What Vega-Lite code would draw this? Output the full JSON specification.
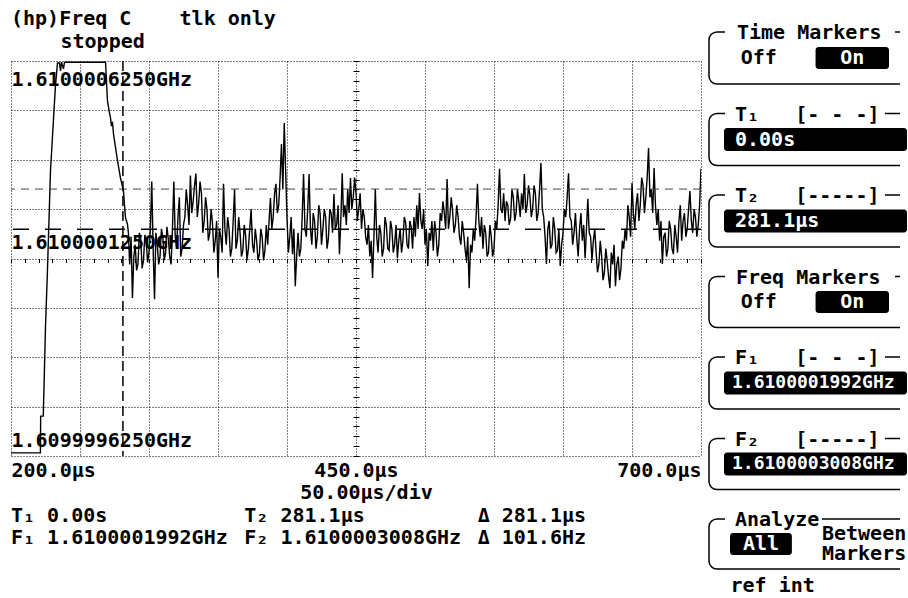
{
  "$schema": "https://vega.github.io/schema/vega-lite/v6.json",
  "background": "white",
  "padding": {"left": 10, "top": 9, "right": 0, "bottom": 0},
  "config": {
    "font": "DejaVu Sans Mono",
    "view": {"stroke": null},
    "text": {"font": "DejaVu Sans Mono", "fontWeight": "bold", "fontSize": 20, "color": "black"},
    "title": {"font": "DejaVu Sans Mono", "fontWeight": "bold", "fontSize": 20, "color": "black", "anchor": "start"},
    "axis": {"labelFont": "DejaVu Sans Mono", "labelFontWeight": "bold", "labelFontSize": 20, "labelColor": "black", "titleFont": "DejaVu Sans Mono", "titleFontWeight": "bold", "titleFontSize": 20, "titleColor": "black"}
  },
  "datasets": {
    "trace": [
      {"t_us":200,"df_hz":-367},{"t_us":221.3,"df_hz":-367},{"t_us":221.5,"df_hz":-274},{"t_us":223.4,"df_hz":-274},
      {"t_us":225,"df_hz":-47},{"t_us":226.4,"df_hz":93},{"t_us":228.6,"df_hz":346},{"t_us":230.8,"df_hz":478},
      {"t_us":232.2,"df_hz":562},{"t_us":233.7,"df_hz":620},{"t_us":235.1,"df_hz":620},{"t_us":235.9,"df_hz":600},
      {"t_us":236.6,"df_hz":622},{"t_us":238,"df_hz":605},{"t_us":238.8,"df_hz":622},{"t_us":268.5,"df_hz":622},
      {"t_us":269.9,"df_hz":524},{"t_us":271.4,"df_hz":493},{"t_us":272.1,"df_hz":481},{"t_us":272.8,"df_hz":460},
      {"t_us":273.5,"df_hz":471},{"t_us":274.3,"df_hz":440},{"t_us":277.2,"df_hz":372},{"t_us":279.3,"df_hz":329},
      {"t_us":281.5,"df_hz":296},{"t_us":282.3,"df_hz":257},{"t_us":283,"df_hz":227},{"t_us":284.4,"df_hz":212},
      {"t_us":285.1,"df_hz":189},
      {"t_us":286,"df_hz":110},{"t_us":287,"df_hz":180},{"t_us":288,"df_hz":25},{"t_us":289,"df_hz":130},
      {"t_us":290,"df_hz":160},{"t_us":291,"df_hz":95},{"t_us":292,"df_hz":110},{"t_us":293,"df_hz":190},
      {"t_us":294,"df_hz":175},{"t_us":295,"df_hz":100},{"t_us":296,"df_hz":120},{"t_us":297,"df_hz":185},
      {"t_us":298,"df_hz":170},{"t_us":299,"df_hz":115},{"t_us":300,"df_hz":140},{"t_us":301,"df_hz":200},
      {"t_us":302,"df_hz":320},{"t_us":303,"df_hz":150},{"t_us":304,"df_hz":22},{"t_us":305,"df_hz":190},
      {"t_us":306,"df_hz":160},{"t_us":307,"df_hz":110},{"t_us":308,"df_hz":130},{"t_us":309,"df_hz":200},
      {"t_us":310,"df_hz":180},{"t_us":311,"df_hz":120},{"t_us":312,"df_hz":140},{"t_us":313,"df_hz":205},
      {"t_us":314,"df_hz":175},{"t_us":315,"df_hz":130},{"t_us":316,"df_hz":110},{"t_us":317,"df_hz":200},
      {"t_us":318,"df_hz":320},{"t_us":319,"df_hz":180},{"t_us":320,"df_hz":150},{"t_us":321,"df_hz":230},
      {"t_us":322,"df_hz":280},{"t_us":323,"df_hz":130},{"t_us":324,"df_hz":150},{"t_us":325,"df_hz":210},
      {"t_us":326,"df_hz":230},{"t_us":327,"df_hz":300},{"t_us":328,"df_hz":260},{"t_us":329,"df_hz":210},
      {"t_us":330,"df_hz":335},{"t_us":331,"df_hz":240},{"t_us":332,"df_hz":270},{"t_us":333,"df_hz":310},
      {"t_us":334,"df_hz":340},{"t_us":335,"df_hz":230},{"t_us":336,"df_hz":265},{"t_us":337,"df_hz":320},
      {"t_us":338,"df_hz":290},{"t_us":339,"df_hz":190},{"t_us":340,"df_hz":220},{"t_us":341,"df_hz":280},
      {"t_us":342,"df_hz":250},{"t_us":343,"df_hz":170},{"t_us":344,"df_hz":190},{"t_us":345,"df_hz":250},
      {"t_us":346,"df_hz":215},{"t_us":347,"df_hz":140},{"t_us":348,"df_hz":170},{"t_us":349,"df_hz":220},
      {"t_us":350,"df_hz":76},{"t_us":351,"df_hz":200},{"t_us":352,"df_hz":180},{"t_us":353,"df_hz":140},
      {"t_us":354,"df_hz":314},{"t_us":355,"df_hz":200},{"t_us":356,"df_hz":160},{"t_us":357,"df_hz":230},
      {"t_us":358,"df_hz":200},{"t_us":359,"df_hz":130},{"t_us":360,"df_hz":150},{"t_us":361,"df_hz":220},
      {"t_us":362,"df_hz":300},{"t_us":363,"df_hz":150},{"t_us":364,"df_hz":170},{"t_us":365,"df_hz":230},
      {"t_us":366,"df_hz":190},{"t_us":367,"df_hz":130},{"t_us":368,"df_hz":145},{"t_us":369,"df_hz":210},
      {"t_us":370,"df_hz":185},{"t_us":371,"df_hz":120},{"t_us":372,"df_hz":150},{"t_us":373,"df_hz":200},
      {"t_us":374,"df_hz":250},{"t_us":375,"df_hz":160},{"t_us":376,"df_hz":140},{"t_us":377,"df_hz":200},
      {"t_us":378,"df_hz":170},{"t_us":379,"df_hz":120},{"t_us":380,"df_hz":136},{"t_us":381,"df_hz":200},
      {"t_us":382,"df_hz":180},{"t_us":383,"df_hz":120},{"t_us":384,"df_hz":145},{"t_us":385,"df_hz":210},
      {"t_us":386,"df_hz":160},{"t_us":387,"df_hz":220},{"t_us":388,"df_hz":278},{"t_us":389,"df_hz":200},
      {"t_us":390,"df_hz":230},{"t_us":391,"df_hz":290},{"t_us":392,"df_hz":314},{"t_us":393,"df_hz":240},
      {"t_us":394,"df_hz":260},{"t_us":395,"df_hz":330},{"t_us":396,"df_hz":415},{"t_us":397,"df_hz":300},
      {"t_us":398,"df_hz":468},{"t_us":399,"df_hz":350},{"t_us":400,"df_hz":227},{"t_us":401,"df_hz":140},
      {"t_us":402,"df_hz":180},{"t_us":403,"df_hz":230},{"t_us":404,"df_hz":136},{"t_us":405,"df_hz":200},
      {"t_us":406,"df_hz":55},{"t_us":407,"df_hz":130},{"t_us":408,"df_hz":190},{"t_us":409,"df_hz":130},
      {"t_us":410,"df_hz":150},{"t_us":411,"df_hz":230},{"t_us":412,"df_hz":339},{"t_us":413,"df_hz":200},
      {"t_us":414,"df_hz":180},{"t_us":415,"df_hz":250},{"t_us":416,"df_hz":339},{"t_us":417,"df_hz":200},
      {"t_us":418,"df_hz":160},{"t_us":419,"df_hz":240},{"t_us":420,"df_hz":220},{"t_us":421,"df_hz":150},
      {"t_us":422,"df_hz":180},{"t_us":423,"df_hz":260},{"t_us":424,"df_hz":240},{"t_us":425,"df_hz":160},
      {"t_us":426,"df_hz":200},{"t_us":427,"df_hz":250},{"t_us":428,"df_hz":230},{"t_us":429,"df_hz":150},
      {"t_us":430,"df_hz":175},{"t_us":431,"df_hz":250},{"t_us":432,"df_hz":240},{"t_us":433,"df_hz":190},
      {"t_us":434,"df_hz":288},{"t_us":435,"df_hz":200},{"t_us":436,"df_hz":210},{"t_us":437,"df_hz":260},
      {"t_us":438,"df_hz":136},{"t_us":439,"df_hz":220},{"t_us":440,"df_hz":341},{"t_us":441,"df_hz":230},
      {"t_us":442,"df_hz":260},{"t_us":443,"df_hz":210},{"t_us":444,"df_hz":300},{"t_us":445,"df_hz":240},
      {"t_us":446,"df_hz":329},{"t_us":447,"df_hz":250},{"t_us":448,"df_hz":280},{"t_us":449,"df_hz":330},
      {"t_us":450,"df_hz":290},{"t_us":451,"df_hz":220},{"t_us":452,"df_hz":250},{"t_us":453,"df_hz":290},
      {"t_us":454,"df_hz":200},{"t_us":455,"df_hz":250},{"t_us":456,"df_hz":230},{"t_us":457,"df_hz":180},
      {"t_us":458,"df_hz":160},{"t_us":459,"df_hz":210},{"t_us":460,"df_hz":130},{"t_us":461,"df_hz":170},
      {"t_us":462,"df_hz":76},{"t_us":463,"df_hz":180},{"t_us":464,"df_hz":301},{"t_us":465,"df_hz":180},
      {"t_us":466,"df_hz":140},{"t_us":467,"df_hz":210},{"t_us":468,"df_hz":190},{"t_us":469,"df_hz":130},
      {"t_us":470,"df_hz":150},{"t_us":471,"df_hz":230},{"t_us":472,"df_hz":210},{"t_us":473,"df_hz":150},
      {"t_us":474,"df_hz":145},{"t_us":475,"df_hz":220},{"t_us":476,"df_hz":200},{"t_us":477,"df_hz":140},
      {"t_us":478,"df_hz":160},{"t_us":479,"df_hz":210},{"t_us":480,"df_hz":126},{"t_us":481,"df_hz":170},
      {"t_us":482,"df_hz":200},{"t_us":483,"df_hz":140},{"t_us":484,"df_hz":170},{"t_us":485,"df_hz":230},
      {"t_us":486,"df_hz":215},{"t_us":487,"df_hz":160},{"t_us":488,"df_hz":150},{"t_us":489,"df_hz":220},
      {"t_us":490,"df_hz":205},{"t_us":491,"df_hz":150},{"t_us":492,"df_hz":230},{"t_us":493,"df_hz":180},
      {"t_us":494,"df_hz":260},{"t_us":495,"df_hz":200},{"t_us":496,"df_hz":291},{"t_us":497,"df_hz":220},
      {"t_us":498,"df_hz":200},{"t_us":499,"df_hz":250},{"t_us":500,"df_hz":160},{"t_us":501,"df_hz":200},
      {"t_us":502,"df_hz":106},{"t_us":503,"df_hz":190},{"t_us":504,"df_hz":170},{"t_us":505,"df_hz":220},
      {"t_us":506,"df_hz":145},{"t_us":507,"df_hz":220},{"t_us":508,"df_hz":190},{"t_us":509,"df_hz":130},
      {"t_us":510,"df_hz":160},{"t_us":511,"df_hz":240},{"t_us":512,"df_hz":220},{"t_us":513,"df_hz":270},
      {"t_us":514,"df_hz":240},{"t_us":515,"df_hz":200},{"t_us":516,"df_hz":326},{"t_us":517,"df_hz":200},
      {"t_us":518,"df_hz":230},{"t_us":519,"df_hz":280},{"t_us":520,"df_hz":245},{"t_us":521,"df_hz":190},
      {"t_us":522,"df_hz":210},{"t_us":523,"df_hz":260},{"t_us":524,"df_hz":230},{"t_us":525,"df_hz":180},
      {"t_us":526,"df_hz":160},{"t_us":527,"df_hz":220},{"t_us":528,"df_hz":190},{"t_us":529,"df_hz":150},
      {"t_us":530,"df_hz":120},{"t_us":531,"df_hz":180},{"t_us":532,"df_hz":50},{"t_us":533,"df_hz":160},
      {"t_us":534,"df_hz":140},{"t_us":535,"df_hz":200},{"t_us":536,"df_hz":170},{"t_us":537,"df_hz":230},
      {"t_us":538,"df_hz":314},{"t_us":539,"df_hz":220},{"t_us":540,"df_hz":180},{"t_us":541,"df_hz":230},
      {"t_us":542,"df_hz":150},{"t_us":543,"df_hz":210},{"t_us":544,"df_hz":190},{"t_us":545,"df_hz":130},
      {"t_us":546,"df_hz":140},{"t_us":547,"df_hz":210},{"t_us":548,"df_hz":180},{"t_us":549,"df_hz":130},
      {"t_us":550,"df_hz":150},{"t_us":551,"df_hz":220},{"t_us":552,"df_hz":200},{"t_us":553,"df_hz":260},
      {"t_us":554,"df_hz":352},{"t_us":555,"df_hz":250},{"t_us":556,"df_hz":240},{"t_us":557,"df_hz":290},
      {"t_us":558,"df_hz":220},{"t_us":559,"df_hz":270},{"t_us":560,"df_hz":260},{"t_us":561,"df_hz":210},
      {"t_us":562,"df_hz":225},{"t_us":563,"df_hz":300},{"t_us":564,"df_hz":280},{"t_us":565,"df_hz":220},
      {"t_us":566,"df_hz":240},{"t_us":567,"df_hz":300},{"t_us":568,"df_hz":270},{"t_us":569,"df_hz":230},
      {"t_us":570,"df_hz":290},{"t_us":571,"df_hz":250},{"t_us":572,"df_hz":339},{"t_us":573,"df_hz":240},
      {"t_us":574,"df_hz":260},{"t_us":575,"df_hz":310},{"t_us":576,"df_hz":285},{"t_us":577,"df_hz":230},
      {"t_us":578,"df_hz":250},{"t_us":579,"df_hz":310},{"t_us":580,"df_hz":290},{"t_us":581,"df_hz":220},
      {"t_us":582,"df_hz":240},{"t_us":583,"df_hz":300},{"t_us":584,"df_hz":367},{"t_us":585,"df_hz":250},
      {"t_us":586,"df_hz":230},{"t_us":587,"df_hz":180},{"t_us":588,"df_hz":111},{"t_us":589,"df_hz":200},
      {"t_us":590,"df_hz":220},{"t_us":591,"df_hz":150},{"t_us":592,"df_hz":160},{"t_us":593,"df_hz":230},
      {"t_us":594,"df_hz":200},{"t_us":595,"df_hz":140},{"t_us":596,"df_hz":145},{"t_us":597,"df_hz":200},
      {"t_us":598,"df_hz":106},{"t_us":599,"df_hz":160},{"t_us":600,"df_hz":190},{"t_us":601,"df_hz":250},
      {"t_us":602,"df_hz":230},{"t_us":603,"df_hz":280},{"t_us":604,"df_hz":341},{"t_us":605,"df_hz":230},
      {"t_us":606,"df_hz":220},{"t_us":607,"df_hz":160},{"t_us":608,"df_hz":190},{"t_us":609,"df_hz":240},
      {"t_us":610,"df_hz":175},{"t_us":611,"df_hz":130},{"t_us":612,"df_hz":200},{"t_us":613,"df_hz":240},
      {"t_us":614,"df_hz":170},{"t_us":615,"df_hz":210},{"t_us":616,"df_hz":126},{"t_us":617,"df_hz":200},
      {"t_us":618,"df_hz":276},{"t_us":619,"df_hz":190},{"t_us":620,"df_hz":180},{"t_us":621,"df_hz":120},
      {"t_us":622,"df_hz":170},{"t_us":623,"df_hz":200},{"t_us":624,"df_hz":140},{"t_us":625,"df_hz":90},
      {"t_us":626,"df_hz":110},{"t_us":627,"df_hz":170},{"t_us":628,"df_hz":130},{"t_us":629,"df_hz":70},
      {"t_us":630,"df_hz":90},{"t_us":631,"df_hz":150},{"t_us":632,"df_hz":120},{"t_us":633,"df_hz":80},
      {"t_us":634,"df_hz":50},{"t_us":635,"df_hz":140},{"t_us":636,"df_hz":110},{"t_us":637,"df_hz":160},
      {"t_us":638,"df_hz":55},{"t_us":639,"df_hz":110},{"t_us":640,"df_hz":130},{"t_us":641,"df_hz":70},
      {"t_us":642,"df_hz":100},{"t_us":643,"df_hz":170},{"t_us":644,"df_hz":150},{"t_us":645,"df_hz":200},
      {"t_us":646,"df_hz":170},{"t_us":647,"df_hz":260},{"t_us":648,"df_hz":230},{"t_us":649,"df_hz":180},
      {"t_us":650,"df_hz":316},{"t_us":651,"df_hz":240},{"t_us":652,"df_hz":200},{"t_us":653,"df_hz":260},
      {"t_us":654,"df_hz":290},{"t_us":655,"df_hz":220},{"t_us":656,"df_hz":260},{"t_us":657,"df_hz":330},
      {"t_us":658,"df_hz":310},{"t_us":659,"df_hz":240},{"t_us":660,"df_hz":280},{"t_us":661,"df_hz":330},
      {"t_us":662,"df_hz":405},{"t_us":663,"df_hz":280},{"t_us":664,"df_hz":300},{"t_us":665,"df_hz":240},
      {"t_us":666,"df_hz":354},{"t_us":667,"df_hz":260},{"t_us":668,"df_hz":210},{"t_us":669,"df_hz":250},
      {"t_us":670,"df_hz":170},{"t_us":671,"df_hz":220},{"t_us":672,"df_hz":111},{"t_us":673,"df_hz":180},
      {"t_us":674,"df_hz":190},{"t_us":675,"df_hz":130},{"t_us":676,"df_hz":150},{"t_us":677,"df_hz":220},
      {"t_us":678,"df_hz":200},{"t_us":679,"df_hz":150},{"t_us":680,"df_hz":136},{"t_us":681,"df_hz":210},
      {"t_us":682,"df_hz":180},{"t_us":683,"df_hz":140},{"t_us":684,"df_hz":220},{"t_us":685,"df_hz":260},
      {"t_us":686,"df_hz":170},{"t_us":687,"df_hz":220},{"t_us":688,"df_hz":240},{"t_us":689,"df_hz":180},
      {"t_us":690,"df_hz":200},{"t_us":691,"df_hz":250},{"t_us":692,"df_hz":296},{"t_us":693,"df_hz":220},
      {"t_us":694,"df_hz":190},{"t_us":695,"df_hz":250},{"t_us":696,"df_hz":230},{"t_us":697,"df_hz":180},
      {"t_us":698,"df_hz":210},{"t_us":699,"df_hz":260},{"t_us":700,"df_hz":352}
    ],
    "status": [{"status": "stopped"}],
    "time_markers": [{"marker": "T1", "t_us": 0}, {"marker": "T2", "t_us": 281.1}],
    "freq_markers": [{"marker": "F1", "df_hz": 199.2}, {"marker": "F2", "df_hz": 300.8}],
    "readouts": [
      {"marker": "1", "quantity": "time", "label": "T₁ 0.00s"},
      {"marker": "1", "quantity": "frequency", "label": "F₁ 1.6100001992GHz"},
      {"marker": "2", "quantity": "time", "label": "T₂ 281.1µs"},
      {"marker": "2", "quantity": "frequency", "label": "F₂ 1.6100003008GHz"},
      {"marker": "Δ", "quantity": "time", "label": "Δ 281.1µs"},
      {"marker": "Δ", "quantity": "frequency", "label": "Δ 101.6Hz"}
    ],
    "time_toggle": [{"setting": "Time Markers", "option": "Off", "selected": false}, {"setting": "Time Markers", "option": "On", "selected": true}],
    "freq_toggle": [{"setting": "Freq Markers", "option": "Off", "selected": false}, {"setting": "Freq Markers", "option": "On", "selected": true}],
    "analyze": [{"setting": "Analyze", "option": "All", "selected": true}, {"setting": "Analyze", "option": "Between\nMarkers", "selected": false}],
    "marker_values": [
      {"marker": "T1", "value": "0.00s"},
      {"marker": "T2", "value": "281.1µs"},
      {"marker": "F1", "value": "1.6100001992GHz"},
      {"marker": "F2", "value": "1.6100003008GHz"}
    ]
  },
  "spacing": 6,
  "hconcat": [
    {
      "spacing": 3,
      "vconcat": [
        {
          "width": 690,
          "height": 25,
          "title": {"text": "(hp)Freq C\u00a0\u00a0\u00a0\u00a0tlk only", "offset": 3},
          "data": {"name": "status"},
          "mark": {"type": "text", "align": "left"},
          "encoding": {
            "x": {"field": "status", "type": "nominal", "axis": null, "bandPosition": 0, "scale": {"type": "band", "range": [49.5, 690], "paddingInner": 0, "paddingOuter": 0}},
            "y": {"field": "status", "type": "nominal", "axis": null, "scale": {"type": "point", "range": [10, 10], "padding": 0}},
            "text": {"field": "status"}
          }
        },
        {
          "width": 690,
          "height": 395,
          "resolve": {"axis": {"x": "independent", "y": "independent"}},
          "layer": [
            {
              "data": {"name": "trace"},
              "mark": {"type": "line", "color": "black", "strokeWidth": 1.4, "clip": true},
              "encoding": {
                "x": {"field": "t_us", "type": "quantitative", "scale": {"domain": [200, 700], "nice": false, "zero": false},
                  "axis": {"orient": "bottom", "values": [200, 250, 300, 350, 400, 450, 500, 550, 600, 650, 700], "grid": true, "gridDash": [1, 2], "gridColor": "black", "gridOpacity": 1, "gridWidth": 1, "domain": false, "ticks": false, "tickSize": 0, "labelPadding": 4, "labelFlush": true, "labelOverlap": false,
                    "labelExpr": "datum.value == 200 || datum.value == 450 || datum.value == 700 ? format(datum.value, '.1f') + 'µs' : ''",
                    "title": "50.00µs/div", "titlePadding": 2, "titleX": 355}},
                "y": {"field": "df_hz", "type": "quantitative", "scale": {"domain": [-375, 625], "nice": false, "zero": false},
                  "axis": {"orient": "left", "values": [-375, -250, -125, 0, 125, 250, 375, 500, 625], "grid": true, "gridDash": [1, 2], "gridColor": "black", "gridOpacity": 1, "gridWidth": 1, "domain": false, "ticks": false, "tickSize": 0, "labelPadding": 0, "labelAlign": "left", "labelFlush": false, "labelOverlap": false, "labelLimit": 0,
                    "labelBaseline": {"condition": {"test": "datum.value == 625", "value": "top"}, "value": "bottom"},
                    "labelOffset": {"condition": {"test": "datum.value == 625", "value": 8}, "value": -6},
                    "labelExpr": "datum.value == 625 || datum.value == 125 || datum.value == -375 ? format(1.61 + datum.value * 1e-9, '.10f') + 'GHz' : ''",
                    "title": null}},
                "order": {"value": null}
              }
            },
            {
              "data": {"name": "freq_markers"},
              "transform": [{"filter": "datum.marker == 'F1'"}],
              "mark": {"type": "rule", "color": "black", "strokeWidth": 1.5, "strokeDash": [16, 16]},
              "encoding": {"y": {"field": "df_hz", "type": "quantitative",
                "axis": {"orient": "left", "offset": -348, "values": [-375, -350, -325, -300, -275, -250, -225, -200, -175, -150, -125, -100, -75, -50, -25, 0, 25, 50, 75, 100, 125, 150, 175, 200, 225, 250, 275, 300, 325, 350, 375, 400, 425, 450, 475, 500, 525, 550, 575, 600, 625],
                  "labels": false, "domain": false, "grid": false, "ticks": true, "tickSize": 6, "tickColor": "black", "tickWidth": 1, "title": null}}}
            },
            {
              "data": {"name": "freq_markers"},
              "transform": [{"filter": "datum.marker == 'F2'"}],
              "mark": {"type": "rule", "color": "#444444", "strokeWidth": 1, "strokeDash": [8, 6]},
              "encoding": {"y": {"field": "df_hz", "type": "quantitative", "axis": null}}
            },
            {
              "data": {"name": "time_markers"},
              "mark": {"type": "rule", "color": "black", "strokeWidth": 1.5, "strokeDash": [10, 5], "clip": true},
              "encoding": {"x": {"field": "t_us", "type": "quantitative",
                "axis": {"orient": "bottom", "offset": -197.5, "values": [200, 210, 220, 230, 240, 250, 260, 270, 280, 290, 300, 310, 320, 330, 340, 350, 360, 370, 380, 390, 400, 410, 420, 430, 440, 450, 460, 470, 480, 490, 500, 510, 520, 530, 540, 550, 560, 570, 580, 590, 600, 610, 620, 630, 640, 650, 660, 670, 680, 690, 700],
                  "labels": false, "domain": false, "grid": false, "ticks": true, "tickSize": 4, "tickColor": "black", "tickWidth": 1, "title": null}}}
            }
          ]
        },
        {
          "width": 690,
          "height": 44,
          "data": {"name": "readouts"},
          "mark": {"type": "text", "align": "left"},
          "encoding": {
            "x": {"field": "marker", "type": "nominal", "sort": null, "axis": null, "bandPosition": 0, "scale": {"type": "band", "range": [0, 700], "paddingInner": 0, "paddingOuter": 0}},
            "y": {"field": "quantity", "type": "nominal", "sort": null, "axis": null, "scale": {"type": "point", "range": [11, 33], "padding": 0}},
            "text": {"field": "label"}
          }
        }
      ]
    },
    {
      "spacing": 18.5,
      "vconcat": [
        {
          "width": 199, "height": 52,
          "title": {"text": "Time Markers", "dx": 28, "offset": -11},
          "view": {"stroke": "black", "strokeWidth": 1.5, "cornerRadius": 8, "strokeDash": [8, 170, 5, 61, 3000]},
          "data": {"name": "time_toggle"},
          "encoding": {
            "x": {"field": "option", "type": "nominal", "axis": null, "scale": {"type": "band", "domain": ["Off", "On"], "range": [13, 180], "paddingInner": 0.215, "paddingOuter": 0}},
            "y": {"field": "setting", "type": "nominal", "axis": null, "scale": {"type": "band", "paddingOuter": 0.68}}
          },
          "layer": [
            {"transform": [{"filter": "datum.selected"}], "mark": {"type": "rect", "color": "black", "cornerRadius": 3}},
            {"mark": {"type": "text"}, "encoding": {"text": {"field": "option"}, "color": {"condition": {"test": "datum.selected", "value": "white"}, "value": "black"}}}
          ]
        },
        {
          "width": 199, "height": 52,
          "title": {"text": "T₁\u00a0\u00a0\u00a0[-\u00a0-\u00a0-]", "dx": 26, "offset": -11},
          "view": {"stroke": "black", "strokeWidth": 1.5, "cornerRadius": 8, "strokeDash": [8, 160, 15, 61, 3000]},
          "data": {"name": "marker_values"},
          "transform": [{"filter": "datum.marker == 'T1'"}],
          "encoding": {
            "x": {"field": "marker", "type": "nominal", "axis": null, "scale": {"type": "band", "range": [15, 198], "paddingInner": 0, "paddingOuter": 0}},
            "y": {"field": "marker", "type": "nominal", "axis": null, "scale": {"type": "band", "paddingOuter": 0.63}}
          },
          "layer": [
            {"mark": {"type": "rect", "color": "black", "cornerRadius": 3}},
            {"mark": {"type": "text", "align": "left", "dx": 11, "color": "white"}, "encoding": {"x": {"field": "marker", "type": "nominal", "bandPosition": 0}, "text": {"field": "value"}}}
          ]
        },
        {
          "width": 199, "height": 52,
          "title": {"text": "T₂\u00a0\u00a0\u00a0[-----]", "dx": 26, "offset": -11},
          "view": {"stroke": "black", "strokeWidth": 1.5, "cornerRadius": 8, "strokeDash": [8, 160, 15, 61, 3000]},
          "data": {"name": "marker_values"},
          "transform": [{"filter": "datum.marker == 'T2'"}],
          "encoding": {
            "x": {"field": "marker", "type": "nominal", "axis": null, "scale": {"type": "band", "range": [15, 198], "paddingInner": 0, "paddingOuter": 0}},
            "y": {"field": "marker", "type": "nominal", "axis": null, "scale": {"type": "band", "paddingOuter": 0.63}}
          },
          "layer": [
            {"mark": {"type": "rect", "color": "black", "cornerRadius": 3}},
            {"mark": {"type": "text", "align": "left", "dx": 11, "color": "white"}, "encoding": {"x": {"field": "marker", "type": "nominal", "bandPosition": 0}, "text": {"field": "value"}}}
          ]
        },
        {
          "width": 199, "height": 51,
          "title": {"text": "Freq Markers", "dx": 27, "offset": -11},
          "view": {"stroke": "black", "strokeWidth": 1.5, "cornerRadius": 8, "strokeDash": [8, 170, 5, 60, 3000]},
          "data": {"name": "freq_toggle"},
          "encoding": {
            "x": {"field": "option", "type": "nominal", "axis": null, "scale": {"type": "band", "domain": ["Off", "On"], "range": [13, 180], "paddingInner": 0.215, "paddingOuter": 0}},
            "y": {"field": "setting", "type": "nominal", "axis": null, "scale": {"type": "band", "paddingOuter": 0.66}}
          },
          "layer": [
            {"transform": [{"filter": "datum.selected"}], "mark": {"type": "rect", "color": "black", "cornerRadius": 3}},
            {"mark": {"type": "text"}, "encoding": {"text": {"field": "option"}, "color": {"condition": {"test": "datum.selected", "value": "white"}, "value": "black"}}}
          ]
        },
        {
          "width": 199, "height": 52,
          "title": {"text": "F₁\u00a0\u00a0\u00a0[-\u00a0-\u00a0-]", "dx": 26, "offset": -11},
          "view": {"stroke": "black", "strokeWidth": 1.5, "cornerRadius": 8, "strokeDash": [8, 160, 15, 61, 3000]},
          "data": {"name": "marker_values"},
          "transform": [{"filter": "datum.marker == 'F1'"}],
          "encoding": {
            "x": {"field": "marker", "type": "nominal", "axis": null, "scale": {"type": "band", "range": [15, 198], "paddingInner": 0, "paddingOuter": 0}},
            "y": {"field": "marker", "type": "nominal", "axis": null, "scale": {"type": "band", "paddingOuter": 0.63}}
          },
          "layer": [
            {"mark": {"type": "rect", "color": "black", "cornerRadius": 3}},
            {"mark": {"type": "text", "align": "left", "dx": 8, "color": "white", "fontSize": 18}, "encoding": {"x": {"field": "marker", "type": "nominal", "bandPosition": 0}, "text": {"field": "value"}}}
          ]
        },
        {
          "width": 199, "height": 51,
          "title": {"text": "F₂\u00a0\u00a0\u00a0[-----]", "dx": 26, "offset": -11},
          "view": {"stroke": "black", "strokeWidth": 1.5, "cornerRadius": 8, "strokeDash": [8, 160, 15, 60, 3000]},
          "data": {"name": "marker_values"},
          "transform": [{"filter": "datum.marker == 'F2'"}],
          "encoding": {
            "x": {"field": "marker", "type": "nominal", "axis": null, "scale": {"type": "band", "range": [15, 198], "paddingInner": 0, "paddingOuter": 0}},
            "y": {"field": "marker", "type": "nominal", "axis": null, "scale": {"type": "band", "paddingOuter": 0.6}}
          },
          "layer": [
            {"mark": {"type": "rect", "color": "black", "cornerRadius": 3}},
            {"mark": {"type": "text", "align": "left", "dx": 8, "color": "white", "fontSize": 18}, "encoding": {"x": {"field": "marker", "type": "nominal", "bandPosition": 0}, "text": {"field": "value"}}}
          ]
        },
        {
          "width": 199, "height": 50,
          "title": {"text": "Analyze", "dx": 26, "offset": -11},
          "view": {"stroke": "black", "strokeWidth": 1.5, "cornerRadius": 8, "strokeDash": [8, 97, 78, 59, 3000]},
          "data": {"name": "analyze"},
          "encoding": {
            "x": {"field": "option", "type": "nominal", "scale": {"type": "band", "domain": ["All", "Between\nMarkers"], "range": [21, 186], "paddingInner": 0.4, "paddingOuter": 0},
              "axis": {"labels": false, "ticks": false, "domain": false, "grid": false, "title": "ref int", "titleAnchor": "start", "titleAlign": "left", "titlePadding": 6}},
            "y": {"field": "setting", "type": "nominal", "axis": null, "scale": {"type": "band", "paddingOuter": 0.64}}
          },
          "layer": [
            {"transform": [{"filter": "datum.selected"}], "mark": {"type": "rect", "color": "black", "cornerRadius": 3}},
            {"transform": [{"filter": "datum.selected"}], "mark": {"type": "text", "color": "white"}, "encoding": {"text": {"field": "option"}}},
            {"transform": [{"filter": "!datum.selected"}], "mark": {"type": "text", "lineBreak": "\n", "lineHeight": 20, "dy": -10}, "encoding": {"text": {"field": "option"}}}
          ]
        }
      ]
    }
  ]
}
